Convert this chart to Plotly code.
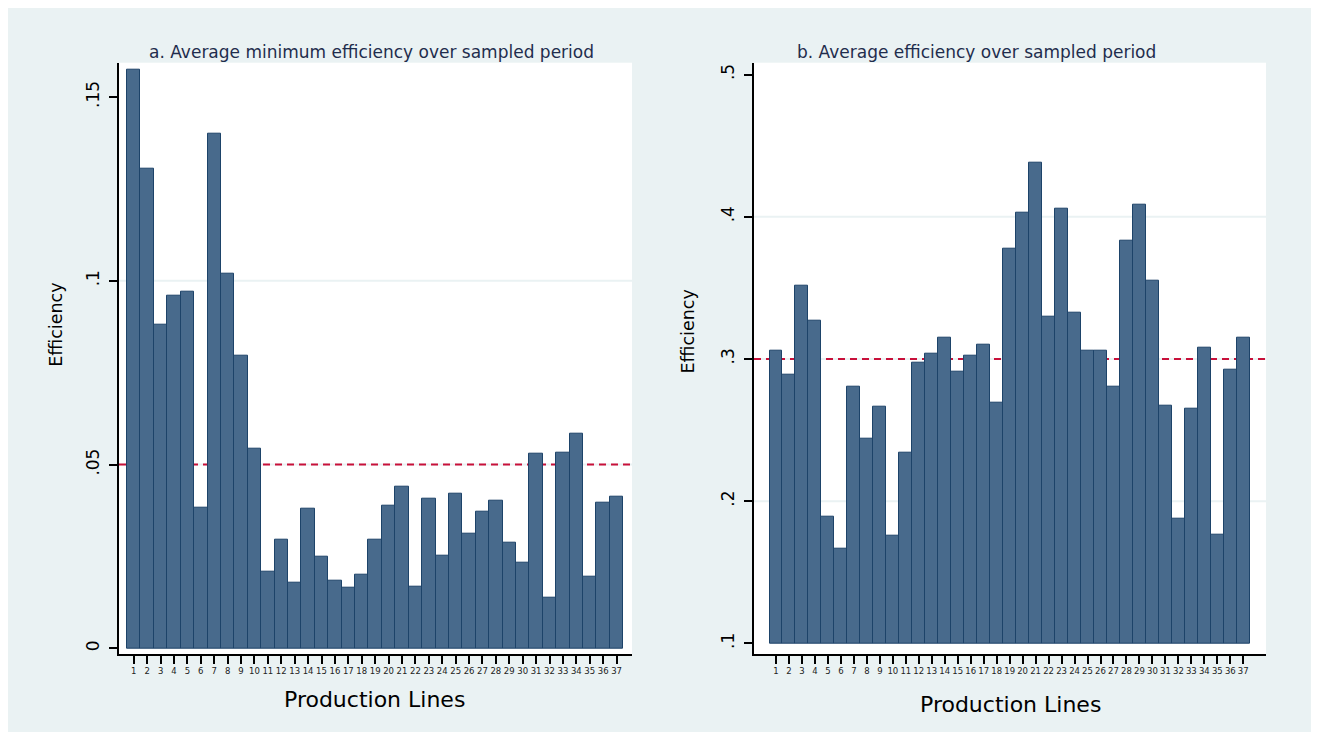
import plotly.graph_objects as go

# ---------------- data ----------------
lines = list(range(1, 38))
min_eff = [0.1574, 0.1306, 0.0880, 0.0960, 0.0969, 0.0382, 0.1401, 0.1018, 0.0795, 0.0543,
           0.0209, 0.0295, 0.0178, 0.0379, 0.0250, 0.0184, 0.0164, 0.0201, 0.0295, 0.0389,
           0.0439, 0.0167, 0.0408, 0.0251, 0.0422, 0.0312, 0.0371, 0.0403, 0.0287, 0.0233,
           0.0530, 0.0139, 0.0532, 0.0584, 0.0195, 0.0396, 0.0414]
avg_eff = [0.3060, 0.2889, 0.3517, 0.3271, 0.1893, 0.1663, 0.2807, 0.2441, 0.2664, 0.1756,
           0.2340, 0.2971, 0.3034, 0.3149, 0.2912, 0.3025, 0.3098, 0.2694, 0.3778, 0.4026,
           0.4378, 0.3297, 0.4054, 0.3327, 0.3060, 0.3055, 0.2805, 0.3834, 0.4087, 0.3550,
           0.2671, 0.1874, 0.2652, 0.3079, 0.1761, 0.2926, 0.3149]
ref_a = 0.05
ref_b = 0.30
base_b = 0.1
yticks_a = [0, 0.05, 0.1, 0.15]
yticktext_a = ["0", ".05", ".1", ".15"]
yticks_b = [0.1, 0.2, 0.3, 0.4, 0.5]
yticktext_b = [".1", ".2", ".3", ".4", ".5"]
title_a = "a. Average minimum efficiency over sampled period"
title_b = "b. Average efficiency over sampled period"
xlabel = "Production Lines"
ylabel = "Efficiency"

# ---------------- style ----------------
OFF = 8  # page body margin
W, H = 1319 - OFF, 732
BG = "#EAF2F3"
BAR = "#486A8C"
BAR_LINE = "#1D4369"
RED = "#C8103A"
FONT = "DejaVu Sans"
TITLE_C = "#1f2d4d"


def px(x):
    return (x - OFF) / W


def py(y):
    return 1 - (y - OFF) / H


fig = go.Figure()
fig.add_trace(go.Bar(x=lines, y=min_eff, xaxis="x", yaxis="y",
                     marker=dict(color=BAR, line=dict(color=BAR_LINE, width=1)),
                     showlegend=False))
fig.add_trace(go.Bar(x=lines, y=[v - base_b for v in avg_eff], base=base_b,
                     xaxis="x2", yaxis="y2",
                     marker=dict(color=BAR, line=dict(color=BAR_LINE, width=1)),
                     showlegend=False))

ydom = [py(654), py(62.7)]
xax_common = dict(
    tickmode="array", tickvals=lines, ticktext=[str(i) for i in lines],
    tickfont=dict(family=FONT, size=8.5, color="#222"),
    ticks="outside", ticklen=8, tickwidth=1.5, tickcolor="black",
    showline=True, linecolor="black", linewidth=2, showgrid=False, zeroline=False,
    fixedrange=True,
)
yax_common = dict(
    tickangle=-90, tickfont=dict(family=FONT, size=17, color="black"),
    ticks="outside", ticklen=8, tickwidth=1.5, tickcolor="black",
    ticklabelstandoff=3,
    showline=True, linecolor="black", linewidth=2, showgrid=False, zeroline=False,
)

fig.update_layout(
    width=W, height=H,
    margin=dict(l=0, r=0, t=0, b=0),
    paper_bgcolor=BG, plot_bgcolor="white",
    bargap=0,
    xaxis=dict(domain=[px(119), px(632)], range=[-0.1, 38.15], anchor="y", **xax_common),
    yaxis=dict(domain=ydom, range=[-0.0015, 0.1593], anchor="x",
               tickvals=yticks_a, ticktext=yticktext_a, **yax_common),
    xaxis2=dict(domain=[px(754), px(1266)], range=[-0.695, 38.75], anchor="y2", **xax_common),
    yaxis2=dict(domain=ydom, range=[0.0925, 0.5083], anchor="x2",
                tickvals=yticks_b, ticktext=yticktext_b, **yax_common),
)

shapes = []
# interior gridlines
for v in yticks_a[1:-1]:
    shapes.append(dict(type="line", xref="x domain", yref="y", x0=0, x1=1, y0=v, y1=v,
                       line=dict(color=BG, width=2), layer="below"))
for v in yticks_b[1:-1]:
    shapes.append(dict(type="line", xref="x2 domain", yref="y2", x0=0, x1=1, y0=v, y1=v,
                       line=dict(color=BG, width=2), layer="below"))
# reference lines
shapes.append(dict(type="line", xref="x domain", yref="y", x0=0, x1=1, y0=ref_a, y1=ref_a,
                   line=dict(color=RED, width=2, dash="7px,5px"), layer="below"))
shapes.append(dict(type="line", xref="x2 domain", yref="y2", x0=0, x1=1, y0=ref_b, y1=ref_b,
                   line=dict(color=RED, width=2, dash="7px,5px"), layer="below"))
# white outer strip on the right
shapes.append(dict(type="rect", xref="paper", yref="paper", x0=px(1314), x1=1.01, y0=0, y1=1,
                   fillcolor="white", line=dict(width=0), layer="above"))
fig.update_layout(shapes=shapes)

ann = []
ann.append(dict(text=title_a, x=px(371.6), y=py(52.5), xref="paper", yref="paper",
                showarrow=False, xanchor="center", yanchor="middle",
                font=dict(family=FONT, size=17, color=TITLE_C)))
ann.append(dict(text=title_b, x=px(977), y=py(52.5), xref="paper", yref="paper",
                showarrow=False, xanchor="center", yanchor="middle",
                font=dict(family=FONT, size=17, color=TITLE_C)))
ann.append(dict(text=xlabel, x=px(374.5), y=py(699), xref="paper", yref="paper",
                showarrow=False, xanchor="center", yanchor="middle",
                font=dict(family=FONT, size=22, color="black")))
ann.append(dict(text=xlabel, x=px(1010.7), y=py(704), xref="paper", yref="paper",
                showarrow=False, xanchor="center", yanchor="middle",
                font=dict(family=FONT, size=22, color="black")))
ann.append(dict(text=ylabel, x=px(55.8), y=py(325), xref="paper", yref="paper",
                showarrow=False, xanchor="center", yanchor="middle", textangle=-90,
                font=dict(family=FONT, size=17.5, color="black")))
ann.append(dict(text=ylabel, x=px(687.5), y=py(332), xref="paper", yref="paper",
                showarrow=False, xanchor="center", yanchor="middle", textangle=-90,
                font=dict(family=FONT, size=17.5, color="black")))
fig.update_layout(annotations=ann)

fig.write_html("out.html")
